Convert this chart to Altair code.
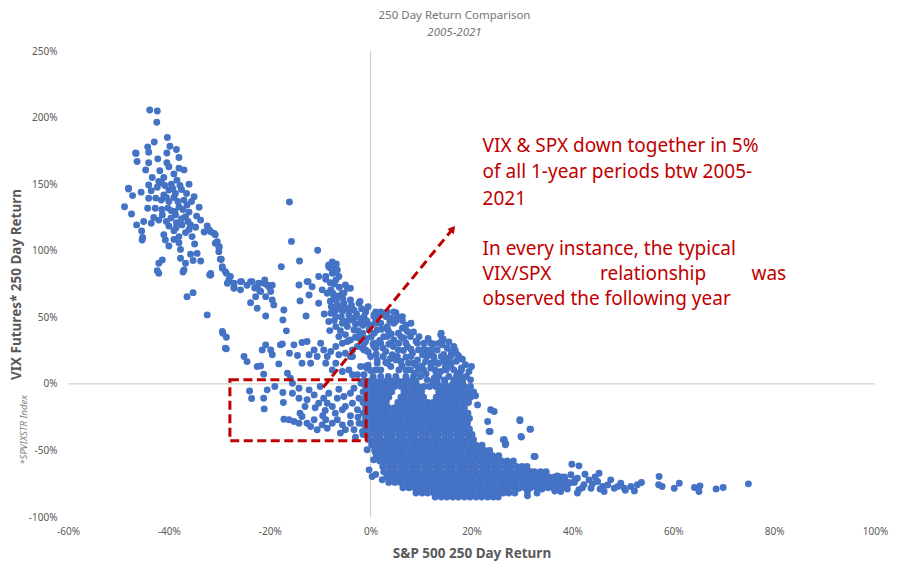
import altair as alt
import pandas as pd

# ---- data (S&P 500 250d return %, VIX futures 250d return %) ----
crash_2008 = [
(-43.8,205.7),(-42.3,205),(-42.4,196.5),(-40.3,185),(-42.9,181.7),(-44.2,178),(-39.8,178.4),(-38.5,176),
(-46.6,173.4),(-44,174),(-40.4,173.4),(-42.2,169),(-46.3,167),(-44,166),(-40.4,166),(-44.6,160.7),(-41.8,160),
(-40,163),(-38,162),(-37,160.7),(-39,157.7),(-43.3,155),(-38.4,153),(-36,150),(-42,152),(-44,149.4),(-48,147),
(-47.2,141.4),(-42.3,147.6),(-40,145.6),(-38.7,143),(-41,141.9),(-35,140.6),(-44,139.4),(-37,138),(-48.8,133),
(-44.2,131.9),(-42.7,131.9),(-40,136.9),(-38,133),(-36.4,134.4),(-34,132.6),(-47.4,127.6),(-41.3,126.9),
(-38.7,126.9),(-36.7,125.6),(-33.7,123),(-45,121.9),(-43.5,120.6),(-42,123),(-40,118.6),(-37.4,119.4),
(-35.7,119.4),(-34.7,117.6),(-46.4,119.4),(-45.4,114.9),(-39,115),(-36.7,113.6),(-32.4,118.6),(-31.7,114.3),
(-45.2,110),(-45.3,108),(-40.7,108),(-38,110.6),(-35.4,110.6),(-30.8,111.9),(-40,103.6),(-38,106),(-34.9,105),
(-30.4,106.8),(-37.7,101),(-35.7,97.3),(-34.4,98),(-30.1,102.6),(-29.8,93.6),(-41.3,93),(-42,90.6),(-37.7,94.3),
(-35.2,92.6),(-33.7,92.3),(-36.7,90.6),(-29.4,88),(-28.8,84.3),(-27.8,80.6),(-37,85.6),(-42,83),(-31.9,81.8),
(-28.4,75.5),(-27.1,71.8),(-25.6,76.8),(-25.8,70.6),(-23.8,76.8),(-35.2,68.5),(-36.4,65.5),
(-48,146.4),(-46.5,173),(-42.3,85),(-37.2,84),(-39.5,150),(-41,155),(-39,140),(-37.5,146),(-41.5,138),
(-39.5,130),(-40.5,122),(-38.5,121),(-36,129),(-41,112),(-39,108.5),(-43.5,145),(-45.5,144),(-38,170),
(-36.5,143),(-34.5,126),(-33,114),(-36,116),(-37.5,124),
(-40.8,149),(-39.2,146.5),(-41.5,151),(-40.5,140),(-38.2,137),(-37.8,149),(-40.2,132),(-38.8,129.5),
(-37.2,131),(-39.6,124.5),(-41.4,131),(-42.6,139.5),(-43,125),(-38.6,117),(-36.2,122),(-35.5,137),
]

left_mid = [
(-16.1,136.6),(-15.7,107),(-10.5,100.4),(-14.1,92.3),(-17.7,88),(-30.8,105.6),(-30.1,99.3),(-29.6,93.6),
(-29.4,86.8),(-28.6,83),(-28.1,78),(-27.1,73),(-25.8,76.8),(-31.7,81.8),(-23.5,76.8),(-22.5,73),(-21.2,75.5),
(-20.2,73),(-21.8,69.3),(-22.8,65.5),(-19.8,69.3),(-20.8,65.5),(-23.8,61),(-22.5,56.8),(-19.5,63),(-19.2,59.3),
(-20.8,51),(-17.2,55.5),(-17.4,48),(-16.7,39.8),(-14.2,74.3),(-12.6,76.8),(-11.6,73),(-12.2,66.8),(-14,62.3),
(-12.8,51),(-10.3,80.6),(-8.9,78.5),(-8.3,89.3),(-7.3,88),(-6.6,85.6),(-7.6,83),(-6.9,78),(-6.3,80.6),
(-9.6,70.6),(-8.6,68),(-7.9,70.6),(-7.3,65.5),(-5.6,68),(-4.6,71.8),(-6.6,59.3),(-5.3,60.5),(-4,63),
(-10.3,60.5),(-7.9,53),(-6.9,50.5),(-5.6,54.3),(-4.3,51.8),(-3.3,55.5),(-2.3,60.5),(-1,54.3),(-8.3,46.8),
(-6.9,43),(-5.6,45.5),(-4.6,43),(-3.3,40.5),(-29.3,38),(-28.6,35),(-28.6,26.3),(-25.1,20.5),(-24.5,16.7),
(-22.5,13),(-21.8,13.5),(-21.2,7.3),(-21.5,25.5),(-20.8,29.3),(-19.8,25.5),(-19.5,21.8),(-18.2,15),(-17.5,30),
(-16.1,23),(-15.2,29.3),(-14.5,21.3),(-13.6,31),(-12.6,31.8),(-16.5,8),(-15.9,4.3),(-13.6,15.5),(-12.2,21.8),
(-11.9,15.5),(-11.2,25.5),(-10.6,20.5),(-9.9,30.5),(-9.3,25.5),(-8.6,20.5),(-8.9,15.5),(-7.9,24.3),(-6.9,28),
(-6.3,21.8),(-5,23),(-6.9,15.5),(-7.6,10.5),(-5.6,9.3),(-3.6,20.5),(-2.6,28),(-1.3,25.5),(-2,13),(-2.6,6.8),
(-0.7,11.8),(-1.6,38),(-1,31.8),
(-32,115.6),(-31,113),(-30,103),(-27.1,75.6),(-22.2,75.6),(-20.5,74.3),(-31.7,83),(-12.4,76.8),(-8.9,80.6),
(-8.3,88),(-5,74.3),(-4,71.8),(-32.4,51.8),(-29.4,39.3),(-28.8,26.8),(-17.9,29.3),(-23,72),(-22,70),(-21,78),
(-19.5,74),(-24.5,74),(-8,87),(-7,84),(-8,76),(-7.5,68),(-6.5,66),(-5.5,64),(-8,62),(-6,57),(-7,55),(-5,57),
(-4,48),(-3,45),(-6,40),(-5,37),(-2,49),(-1.5,44),(-2.5,40),(-3,35),(-4,33),(-5.3,68),(-2.1,61.8),(-4.6,31.8),
(-5.6,30.5),(-3.6,25.5),(-4,20.5),(-1.6,26.8),(-2,38),(-3.3,49.3),(-4.3,55.5),(-6,58),(-4.3,10.5),(-3.6,6.8),
(-1.9,0.5),(-1.3,6.8),(-1,13),
(-7.8,58),(-6.8,62.5),(-6.2,72.5),(-7.2,75),(-5.8,50),(-4.8,47),(-3.8,59),(-2.8,52.5),(-1.8,56.5),
(-7.2,47.5),(-6.3,35.5),(-8.1,40),(-2.2,34),(-0.8,47.5),(-0.5,58),(-9.2,52.5),(-7.6,91.5),(-6.8,90),
]

both_down = [
(-24,-5.3),(-21.2,-10.8),(-20.5,-4.5),(-17.4,-6.5),(-15.5,-7),(-15.5,0.5),(-14.2,-3.3),(-14.2,-10.8),
(-12.6,-12),(-12.2,-4.5),(-11.2,-8.3),(-10.3,-14.5),(-9.3,-10.8),(-8.3,-7),(-8.6,-14.5),(-7.6,-17),(-6.6,-10.8),
(-6.3,-4),(-5.3,-9.5),(-5.6,-19.5),(-5,-17),(-4,-7),(-3.6,-14.5),(-3.3,-3.3),(-2.3,-10.8),(-2.6,-19.5),
(-17.2,-26.6),(-16.2,-27),(-15.2,-28.3),(-14.2,-29.6),(-13.6,-24.5),(-12.6,-29.6),(-11.9,-32),(-11.2,-27),
(-10.6,-34.5),(-9.6,-30.8),(-8.9,-27),(-8.6,-33.3),(-7.6,-29.6),(-6.6,-27),(-5.6,-30.8),(-5,-34.5),(-4,-29.6),
(-3.3,-34.5),(-2.3,-29.6),(-1.6,-35.8),
(-23.6,-11),(-17.3,-14),(-21.1,-18.8),(-19,-2),(-10,-2),(-9,-20),(-7,-22),(-4,-24),(-3,-40),(-2.5,-25),
(-6,-37),(-9.5,-24),(-11,-18),(-13,-17),(-14,-22),
]

upper_cloud = [
(0.7,51.8),(1.5,51),(2.6,53),(4,49.3),(5,53.5),(2,45.5),(3.3,43),(4.6,45.5),(6.3,41.8),(7.3,39.3),(7.9,35.5),
(9.3,30.5),(0.7,38),(2.6,35.5),(4.6,33),(6.6,34.3),(7.3,28),(8.3,23),(1,26.8),(3,24.3),(4.3,21.8),(6,16.8),
(1.3,18),(2,10.5),(4,13),(5.6,10.5),(7.9,10.5),(9.3,18),(10.3,21.8),(10.9,16.8),(11.9,21.8),(13.2,25.5),
(14.2,29.3),(13.9,36.8),(14.2,33),(15.2,26.8),(16.5,28),(17.5,20.5),(15.9,20.5),(14.6,16.8),(13.2,15.5),
(11.9,11.8),(13.9,9.3),(15.9,13),(17.2,8),(18.8,14.3),(19.5,9.3),(9.9,5.5),(11.2,3),(12.6,4.3),(14.6,3),
(16.5,3),(18.2,1.8),(2.6,-0.8),(0.3,1.8),
(-1,54),(1,54),(2,54),(3.3,54),(4.6,54),(-1.3,50.5),(3,50.5),(5.3,50.5),(6.3,50.5),(-2,45.5),(-0.7,45.5),
(1,45.5),(8,45.5),(-2,35.5),(3.3,35.5),(6,35.5),(9.6,35.5),(-1.3,30.5),(1,30.5),(2,30.5),(4,30.5),(5.6,30.5),
(7,30.5),(10.6,30.5),(11.9,30.5),(13.6,30.5),(-1,25.5),(5.5,25.5),(9.5,25.5),(11,25.5),(12,25.5),(0,20.5),
(2.5,20.5),(5.3,20.5),(8,20.5),(11.2,20.5),(12.5,20.5),(14,20.5),(1.3,15.5),(3.3,15.5),(7.5,15.5),(8.5,15.5),
(12,15.5),(13.5,15.5),(15,15.5),(16,15.5),(16.5,10.5),(1,10.5),(7,10.5),(9.5,10.5),(10.5,10.5),(12.8,10.5),
(15,10.5),(18,10.5),(0.5,5.5),(2,5.5),(3.5,5.5),(5,5.5),(7,5.5),(8.5,5.5),(13.5,5.5),(15.5,5.5),(17,5.5),
(19,5.5),(20,13),(20.8,-9),(21.2,-15.8),(17.2,21.8),(14,38),(14.4,33.5),(12.5,30),(12,24),(14.5,22),(16,24),
(17,17),(18,12),(13,8),(12,14),(9,14),(0,10),(-0.5,14),(-0.5,24),(0.5,30),(-1,34),(3,16),(5,18),(7,20),
(6.5,25),(4.5,28),(8,26),(9,32),(5.5,38),(3.5,40),(0,44),(1,47),(5,47),(7,44),(8.5,39),(0.7,50.5),(1.3,40.5),
(0.7,28),
(15.5,31.5),(16.8,25),(18.2,18.5),(17.8,6.5),(19.8,3),(16.2,-0.5),(11,7.5),(10.2,13.5),(13.2,1),(15.3,19),
(14.8,12.5),(12.6,18),(10.5,26),(11.4,34),(3.8,47),(2.2,41),(6.3,47.5),(4.1,37.5),(1.8,32.5),(0.1,35),
(-0.3,40.5),(2.4,27),(3.9,18.8),(6.2,13.5),(8.8,8),(5.2,2.5),(3.6,29.8),(1.1,22.3),
]

# dense core of the cloud: x readings along horizontal bands at the given VIX return level
core_rows = {
  2: [-1.5,-0.3,0.8,2.0,3.1,4.3,5.5,6.6,7.8,9.0,12.4,14.7,17.0,18.2],
 -2: [-1.0,0.2,1.3,2.5,3.6,4.8,6.0,7.1,8.3,9.4,10.6,11.7,12.9,14.0,15.2,16.3,17.5,18.6,19.8],
 -6: [-1.5,-0.3,0.8,2.0,3.1,4.2,6.6,7.8,9.0,10.1,13.5,14.7,15.8,17.0,18.1,19.3,20.4],
-10: [-1.0,0.2,1.3,2.5,3.6,6.0,7.1,8.3,9.4,10.5,13.0,14.1,15.2,16.4,17.5,18.7,19.8],
-14: [-1.5,-0.3,0.8,2.0,3.1,5.4,6.6,7.8,9.0,10.1,11.3,12.4,13.6,14.7,15.9,17.0,18.2,19.4],
-18: [-1.0,0.2,1.3,2.5,3.6,4.8,6.0,7.1,8.3,9.4,10.6,11.7,12.9,14.0,15.2,16.3,17.5,18.6],
-22: [-1.5,-0.3,0.8,2.0,3.1,4.3,5.4,6.6,7.8,8.9,10.1,11.2,12.4,13.5,14.7,15.8,17.0,18.1,19.3],
-26: [-1.0,0.2,1.3,2.5,3.6,4.8,5.9,7.1,8.2,9.4,10.5,11.7,12.8,14.0,15.1,16.3,17.4,18.6,19.6],
-30: [-1.5,-0.3,0.8,2.0,3.1,4.3,5.4,6.6,7.7,8.9,10.0,11.2,12.3,13.5,14.6,15.8,16.9,18.1,19.2],
-34: [-1.0,0.2,1.3,2.5,3.6,4.8,5.9,7.1,8.2,9.4,10.5,11.7,12.8,14.0,15.1,16.3,17.4,18.6,19.6],
-38: [-1.5,-0.3,0.9,2.0,3.2,4.3,5.5,6.6,7.8,8.9,10.1,11.2,12.4,13.5,14.7,15.8,17.0,18.1,19.3,20.1],
-42: [-0.3,0.9,2.0,3.2,4.3,5.5,6.6,7.8,8.9,10.1,11.2,12.4,13.5,14.7,15.8,17.0,18.1,19.3,20.4],
-46: [0.2,1.4,2.5,3.7,4.8,6.0,7.1,8.3,9.4,10.6,11.7,12.9,14.0,15.2,16.3,17.5,18.6,19.8,20.9,22.1],
-50: [0.8,1.9,3.1,4.2,5.4,6.5,7.7,8.8,10.0,11.1,12.3,13.4,14.6,15.7,16.9,18.0,19.2,20.3,21.5,22.6,23.6],
-54: [1.2,2.4,3.5,4.7,5.8,7.0,8.1,9.3,10.4,11.6,12.7,13.9,15.0,16.2,17.3,18.5,19.6,20.8,21.9,23.1,24.2,25.4],
-58: [1.8,3.0,4.1,5.3,6.4,7.6,8.7,9.9,11.0,12.2,13.3,14.5,15.6,16.8,17.9,19.1,20.2,21.4,22.5,23.7,24.8,26.0,
      27.1,28.3],
-62: [2.4,3.6,4.7,5.9,7.0,8.2,9.3,10.5,11.6,12.8,13.9,15.1,16.2,17.4,18.5,19.7,20.8,22.0,23.1,24.3,25.4,26.6,
      27.7,28.9,30.0,31.0],
-66: [2.6,3.8,4.9,6.1,7.2,8.4,9.5,10.7,11.8,13.0,14.1,15.3,16.4,17.6,18.7,19.9,21.0,22.2,23.3,24.5,25.6,26.8,
      27.9,29.1,30.2,31.4,32.5,33.7,34.8],
-70: [3.2,4.3,5.5,6.6,7.8,8.9,10.1,11.2,12.4,13.5,14.7,15.8,17.0,18.1,19.3,20.4,21.6,22.7,23.9,25.0,26.2,27.3,
      28.5,29.6,30.8,31.9,33.1,34.2,35.4,36.5,37.7,38.4],
-74: [3.6,4.8,5.9,7.1,8.2,9.4,10.5,11.7,12.8,14.0,15.1,16.3,17.4,18.6,19.7,20.9,22.0,23.2,24.3,25.5,26.6,27.8,
      28.9,30.1,31.2,32.4,33.5,34.7,35.8,37.0,38.1,39.3,40.4],
-78: [6.4,7.6,8.7,9.9,11.0,12.2,13.3,14.5,15.6,16.8,17.9,19.1,20.2,21.4,22.5,23.7,24.8,26.0,27.1,28.3,29.4,30.6,
      31.7,32.9,34.0,35.2,36.3,37.3],
-82: [9.0,10.2,11.3,12.5,13.6,14.8,15.9,17.1,18.2,19.4,20.5,21.7,22.8,24.0,25.1,26.3,27.4,28.6],
-85: [12.8,14.0,15.1,16.3,17.4,18.6,19.7,20.9,22.0,23.2,24.3,25.3],
}

tail = [
(23.2,-28.3),(29.6,-27.8),(23.7,-35.8),(31.7,-34),(26.3,-42),(26.7,-45.8),(29.9,-40),(32.6,-54.6),(39.9,-60.4),
(41.3,-61.6),(42.5,-67.9),(45.3,-67.1),(57.2,-69.6),(57.1,-75.8),(57.8,-77.1),(60.2,-78.4),(61.2,-74.6),
(64.2,-77.9),(65.3,-76.6),(65.1,-80.9),(68.5,-78.9),(69.9,-77.9),(74.9,-75.1),(53.7,-74.1),(51.6,-77.1),
(52.3,-80.4),(49.6,-74.6),(47.6,-72.1),(48.3,-78.4),(46,-77.1),(45,-73.3),(43.3,-72.1),(42.3,-75.8),(41,-70.9),
(39.7,-68.3),(39.4,-74.6),(38.4,-77.1),(37,-69.1),(36.1,-73.3),(35.1,-77.1),(33.7,-70.9),(31.7,-65.9),
(31.1,-80.9),(31.1,-84.1),(29.4,-78.4),(28.4,-70.9),(43.7,-78.4),(41.3,-79.6),(37.7,-80.9),(46.3,-80.9),
(50.3,-78.4),(52.9,-75.8),(23.8,-19.5),(24.5,-20.8),(23.5,-35.8),(29.6,-27),(31.6,-34),(29.8,-39.5),
(26.5,-42),(26.8,-45),(32.4,-54.6),(40.5,-72),(42,-78),(44,-75),(45.5,-79),(47,-76),(49,-77),(50.5,-80),
(44.5,-70),(38.5,-71),(39,-79),(41,-82),(36.5,-80.5),(34,-79),(33,-82),(1.0,-52),(0.6,-57),(-0.3,-64.6),
(0.3,-69.6),(-0.7,-49.5),(2.3,-72),(1,-68),
]

x_ticks = [-60, -40, -20, 0, 20, 40, 60, 80, 100]
y_ticks = [-100, -50, 0, 50, 100, 150, 200, 250]

box = [{"x1": -27.9, "x2": -0.9, "y1": 3.0, "y2": -42.8}]
arrow = [{"x1": -9.4, "y1": -2.5, "x2": 16.3, "y2": 116.5}]

note_left = [
    ("VIX & SPX down together in 5%", 22.2, 174.4),
    ("of all 1-year periods btw 2005-", 22.2, 154.4),
    ("2021", 22.2, 134.4),
    ("In every instance, the typical", 22.2, 96.8),
    ("VIX/SPX", 22.2, 78.1),
    ("observed the following year", 22.2, 59.3),
]
note_center = [("relationship", 56.0, 78.1)]
note_right = [("was", 82.4, 78.1)]

# ---- build tables ----
pts = crash_2008 + left_mid + both_down + upper_cloud + tail
for yv, xs_row in core_rows.items():
    pts += [(xv, yv) for xv in xs_row]
df = pd.DataFrame(pts, columns=["spx", "vix"])

BLUE = "#4472C4"
RED = "#C00000"
GRAY = "#595959"
FONT = "Noto Sans"

xs = alt.Scale(domain=[-60, 100], nice=False, zero=False)
ys = alt.Scale(domain=[-100, 250], nice=False, zero=False)

zero_h = alt.Chart(pd.DataFrame({"v": [0]})).mark_rule(color="#C8C8C8", strokeWidth=1).encode(
    y=alt.Y("v:Q", scale=ys))
zero_v = alt.Chart(pd.DataFrame({"v": [0]})).mark_rule(color="#C8C8C8", strokeWidth=1).encode(
    x=alt.X("v:Q", scale=xs))

points = alt.Chart(df).mark_circle(size=48, opacity=1, color=BLUE).encode(
    x=alt.X("spx:Q", scale=xs,
            axis=alt.Axis(values=x_ticks, labelExpr="datum.value + '%'", title="S&P 500 250 Day Return",
                          labelFlush=False, titleY=36, titleBaseline="middle")),
    y=alt.Y("vix:Q", scale=ys,
            axis=alt.Axis(values=y_ticks, labelExpr="datum.value + '%'", title="VIX Futures* 250 Day Return",
                          labelFlush=False, titleX=-52, titleY=233, titleAngle=270, titleBaseline="middle",
                          titleAlign="center")),
)

rect = alt.Chart(pd.DataFrame(box)).mark_rect(
    fillOpacity=0, stroke=RED, strokeWidth=3, strokeDash=[9, 4.5]).encode(
    x=alt.X("x1:Q", scale=xs), x2="x2:Q", y=alt.Y("y1:Q", scale=ys), y2="y2:Q")

arrow_line = alt.Chart(pd.DataFrame(arrow)).mark_rule(
    color=RED, strokeWidth=3, strokeDash=[9, 5]).encode(
    x=alt.X("x1:Q", scale=xs), x2="x2:Q", y=alt.Y("y1:Q", scale=ys), y2="y2:Q")

arrow_head = alt.Chart(pd.DataFrame(arrow)).mark_point(
    shape="triangle-up", filled=True, size=70, color=RED, opacity=1, angle=39).encode(
    x=alt.X("x2:Q", scale=xs), y=alt.Y("y2:Q", scale=ys))

def notes(rows, align):
    d = pd.DataFrame(rows, columns=["t", "x", "y"])
    return alt.Chart(d).mark_text(align=align, baseline="alphabetic", font=FONT, fontSize=19,
                                  color=RED).encode(
        x=alt.X("x:Q", scale=xs), y=alt.Y("y:Q", scale=ys), text="t:N")

footnote = alt.Chart(pd.DataFrame({"t": ["*SPVIXSTR Index"]})).mark_text(
    angle=270, font=FONT, fontSize=9.5, fontStyle="italic", color="#7F7F7F", baseline="middle").encode(
    x=alt.value(-44), y=alt.value(379), text="t:N")

chart = alt.layer(
    zero_h, zero_v, points, rect, arrow_line, arrow_head,
    notes(note_left, "left"), notes(note_center, "center"), notes(note_right, "right"), footnote,
).properties(
    width=807, height=466,
    autosize=alt.AutoSizeParams(type="none"),
    padding={"left": 60, "top": 43, "right": 19, "bottom": 49},
    title=alt.TitleParams(text="250 Day Return Comparison", subtitle="2005-2021", anchor="middle",
                          fontSize=11.5, font=FONT, fontWeight="normal", color="#757575",
                          subtitleFont=FONT, subtitleFontSize=11.5, subtitleFontStyle="italic",
                          subtitleColor="#757575", subtitlePadding=5, offset=8, dx=-17),
).configure_view(stroke=None).configure_axis(
    domain=False, ticks=False, tickSize=0, grid=False, labelFont=FONT, labelFontSize=10,
    labelColor=GRAY, labelPadding=9, titleFont=FONT, titleFontSize=13.5, titleFontWeight="bold",
    titleColor=GRAY,
).configure_axisY(labelPadding=11)

chart.save("out.html", embed_options={"renderer": "svg", "actions": False})
